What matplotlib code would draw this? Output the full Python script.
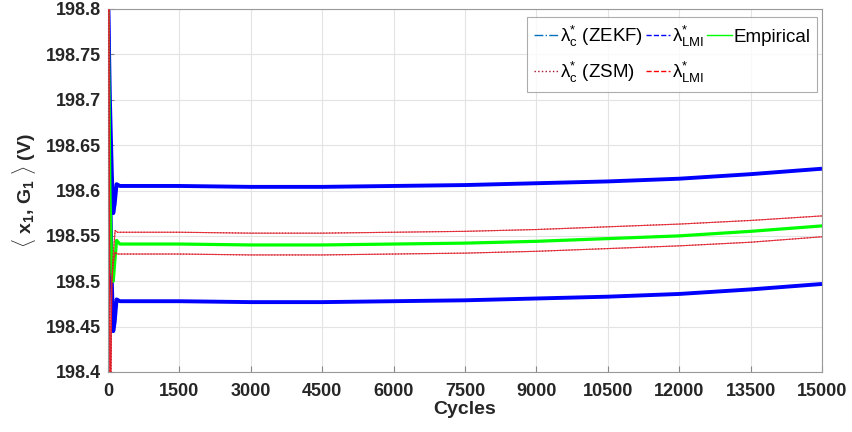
import matplotlib
matplotlib.use("Agg")
import matplotlib.pyplot as plt
from matplotlib.lines import Line2D

plt.rcParams['font.family'] = ['Liberation Sans', 'DejaVu Sans']
plt.rcParams['mathtext.fontset'] = 'custom'
plt.rcParams['mathtext.rm'] = 'Liberation Sans'
plt.rcParams['mathtext.it'] = 'Liberation Sans:italic'
plt.rcParams['mathtext.bf'] = 'Liberation Sans:bold'

# ---- data ----
cycles = [0, 40, 80, 110, 140, 180, 250, 1500, 3000, 4500, 6000, 7500, 9000,
          10500, 12000, 13500, 15000]
upper_blue = [198.82, 198.70, 198.62, 198.575, 198.585, 198.607, 198.605, 198.605,
              198.604, 198.604, 198.605, 198.606, 198.608, 198.610, 198.613,
              198.618, 198.624]
lower_blue = [198.82, 198.62, 198.50, 198.445, 198.455, 198.480, 198.478, 198.478,
              198.477, 198.477, 198.478, 198.479, 198.481, 198.483, 198.486,
              198.491, 198.497]
green = [198.82, 198.60, 198.51, 198.50, 198.52, 198.545, 198.541, 198.541,
         198.540, 198.540, 198.541, 198.542, 198.544, 198.547, 198.550,
         198.555, 198.561]
red_cycles = [0, 20, 40, 60, 80, 110, 150, 200, 1500, 3000, 4500, 6000, 7500, 9000,
              10500, 12000, 13500, 15000]
red_upper = [198.82, 198.80, 198.40, 198.40, 198.50, 198.53, 198.556, 198.554, 198.554,
             198.553, 198.553, 198.554, 198.555, 198.557, 198.560, 198.563,
             198.567, 198.572]
red_lower = [198.82, 198.80, 198.40, 198.40, 198.50, 198.52, 198.532, 198.530, 198.530,
             198.529, 198.529, 198.530, 198.531, 198.533, 198.536, 198.539,
             198.543, 198.549]

xticks = [0, 1500, 3000, 4500, 6000, 7500, 9000, 10500, 12000, 13500, 15000]
yticks = [198.4, 198.45, 198.5, 198.55, 198.6, 198.65, 198.7, 198.75, 198.8]
ytick_labels = ['198.4', '198.45', '198.5', '198.55', '198.6', '198.65', '198.7',
                '198.75', '198.8']

fig = plt.figure(figsize=(8.52, 4.32), dpi=100)
ax = fig.add_axes([108 / 852, 1 - 372 / 432, 714 / 852, 363 / 432])

c_zekf = '#0072bd'
c_blue = '#0000ff'
c_green = '#00ff00'
c_red = '#ff0000'
c_zsm = '#a2142f'

for yb in (upper_blue, lower_blue):
    ax.plot(cycles, yb, color=c_zekf, lw=1.0, ls='-.', zorder=2)
    ax.plot(cycles, yb, color=c_blue, lw=2.8, solid_capstyle='butt', zorder=2)
ax.plot(cycles, green, color=c_green, lw=2.3, zorder=2)
for yr in (red_upper, red_lower):
    ax.plot(red_cycles, yr, color=c_zsm, lw=0.8, ls=':', zorder=3)
    ax.plot(red_cycles, yr, color='#e8202a', lw=0.8, ls='-', alpha=0.85, zorder=3)

ax.set_xlim(0, 15000)
ax.set_ylim(198.4, 198.8)
ax.set_xticks(xticks)
ax.set_xticklabels([str(t) for t in xticks])
ax.set_yticks(yticks)
ax.set_yticklabels(ytick_labels)
ax.tick_params(labelsize=13, direction='in', length=4, color='#888888')
ax.tick_params(axis='x', pad=8)
ax.tick_params(axis='y', pad=5)
for lab in ax.get_xticklabels() + ax.get_yticklabels():
    lab.set_fontweight('bold')
    lab.set_color('#262626')
ax.grid(True, color='#e3e3e3', lw=0.8)
for s in ax.spines.values():
    s.set_color('#999999')
    s.set_linewidth(0.8)

ax.set_xlabel('Cycles', fontsize=14, fontweight='bold', labelpad=1, color='#262626')
ax.set_ylabel(r'$\langle$ $\mathbf{x_1}$, $\mathbf{G_1}$ $\rangle$ (V)', fontsize=14,
              fontweight='bold', labelpad=6, color='#262626')

handles = [
    Line2D([], [], color=c_zekf, ls='-.', lw=1.0),
    Line2D([], [], color=c_zsm, ls=':', lw=1.0),
    Line2D([], [], color=c_blue, ls='--', lw=1.0),
    Line2D([], [], color=c_red, ls='--', lw=1.0),
    Line2D([], [], color=c_green, ls='-', lw=1.0),
]
labels = [r'λ$^{*}_{\rm c}$ (ZEKF)', r'λ$^{*}_{\rm c}$ (ZSM)', r'λ$^{*}_{\rm LMI}$',
          r'λ$^{*}_{\rm LMI}$', 'Empirical']
leg = ax.legend(handles, labels, ncol=3, loc='upper right', fontsize=13.5,
                frameon=True, fancybox=False, edgecolor='#999999',
                handlelength=1.3, handletextpad=0.1, columnspacing=0.15,
                borderpad=0.35, labelspacing=0.6, borderaxespad=0,
                bbox_to_anchor=(0.993, 0.978))
leg.get_frame().set_linewidth(0.8)
leg.set_zorder(5)

fig.savefig('out.png', dpi=100)
